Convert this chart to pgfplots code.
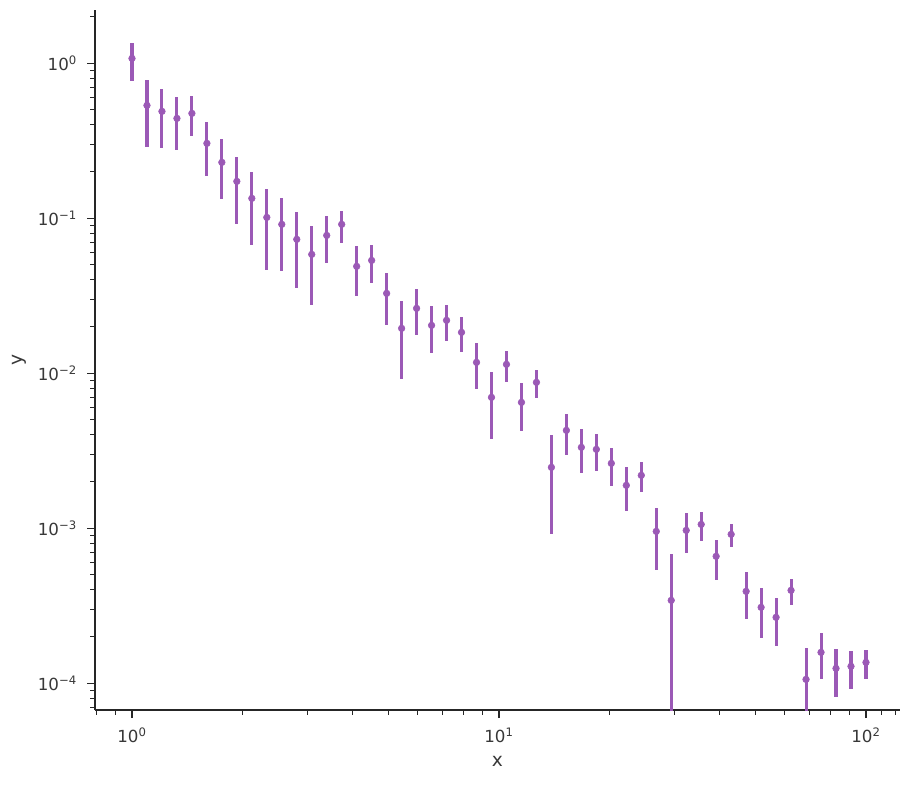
\documentclass[border=0pt]{standalone}
\usepackage{pgfplots}
\pgfplotsset{compat=1.18}
\usepackage{pgfplotstable}
\usepackage{fontspec}
\setmainfont{DejaVu Sans}
\definecolor{pur}{HTML}{9B59B6}
\definecolor{ink}{gray}{0.15}
\definecolor{txt}{gray}{0.22}

\pgfplotstableread{
x y ep em
1.0000 1.072 0.280 0.307
1.0985 0.5334 0.2466 0.2463
1.2068 0.4880 0.1946 0.2051
1.3257 0.4397 0.1666 0.1650
1.4563 0.4736 0.1416 0.1355
1.5999 0.3034 0.1147 0.1168
1.7575 0.2288 0.0960 0.0962
1.9307 0.1725 0.0761 0.0810
2.1210 0.1340 0.0649 0.0670
2.3300 0.1010 0.0535 0.0548
2.5595 0.0911 0.0441 0.0454
2.8117 0.0729 0.0369 0.0374
3.0888 0.0583 0.0309 0.0308
3.3932 0.0773 0.0262 0.0258
3.7276 0.0911 0.0204 0.0218
4.0949 0.0488 0.0175 0.0174
4.4984 0.0533 0.0140 0.0153
4.9417 0.03267 0.01170 0.01236
5.4287 0.01943 0.00985 0.01028
5.9636 0.02615 0.00852 0.00865
6.5513 0.02031 0.00687 0.00691
7.1969 0.02188 0.00571 0.00587
7.9060 0.01831 0.00476 0.00471
8.6851 0.01172 0.00396 0.00387
9.5410 0.00697 0.00323 0.00322
10.481 0.01138 0.00254 0.00267
11.514 0.00647 0.00219 0.00225
12.649 0.00871 0.00179 0.00184
13.895 0.002464 0.001534 0.001549
15.264 0.004268 0.001195 0.001324
16.768 0.003317 0.001053 0.001063
18.421 0.003219 0.000840 0.000887
20.236 0.002615 0.000682 0.000757
22.230 0.001886 0.000600 0.000605
24.421 0.002188 0.000490 0.000489
26.827 0.000952 0.000400 0.000419
29.471 0.0003416 0.000341 0.0003413
32.375 0.000966 0.000289 0.000279
35.565 0.001056 0.000218 0.000235
39.069 0.000657 0.000183 0.000197
42.919 0.000911 0.000155 0.000160
47.149 0.0003905 0.0001325 0.0001315
51.795 0.0003079 0.0001041 0.0001129
56.899 0.0002654 0.0000896 0.0000924
62.506 0.0003964 0.0000746 0.0000794
68.665 0.0001056 0.0000634 0.0000640
75.431 0.0001578 0.0000532 0.0000522
82.864 0.0001244 0.0000420 0.0000435
91.030 0.0001282 0.0000334 0.0000371
100.00 0.0001360 0.0000280 0.0000304
}\datatable

\begin{document}
\begin{tikzpicture}
\path[use as bounding box] (-71.25pt,-57pt) rectangle (612pt,532.5pt);
\begin{axis}[
  scale only axis, width=603.75pt, height=525pt,
  xmode=log, ymode=log,
  xmin=0.793, xmax=123.8, ymin=6.7e-5, ymax=2.2,
  axis lines=left, axis line style={-, ink, line width=0.9pt},
  tick align=outside, tick style={ink, line width=0.8pt},
  major tick length=6pt, minor tick length=3.5pt,
  xtick={1,10,100},
  xticklabels={10\textsuperscript{0},10\textsuperscript{1},10\textsuperscript{2}},
  minor xtick={0.8,0.9,2,3,4,5,6,7,8,9,20,30,40,50,60,70,80,90,110,120},
  ytick={1e-4,1e-3,1e-2,1e-1,1},
  yticklabels={10\textsuperscript{−4},10\textsuperscript{−3},10\textsuperscript{−2},10\textsuperscript{−1},10\textsuperscript{0}},
  minor ytick={7e-5,8e-5,9e-5,2e-4,3e-4,4e-4,5e-4,6e-4,7e-4,8e-4,9e-4,2e-3,3e-3,4e-3,5e-3,6e-3,7e-3,8e-3,9e-3,2e-2,3e-2,4e-2,5e-2,6e-2,7e-2,8e-2,9e-2,0.2,0.3,0.4,0.5,0.6,0.7,0.8,0.9,2},
  ticklabel style={font=\fontsize{12.5}{15}\selectfont, text=txt},
  xticklabel style={yshift=-4pt},
  yticklabel style={xshift=-4pt},
  label style={font=\fontsize{14}{17}\selectfont, text=txt},
  xlabel={x}, ylabel={y},
  xlabel style={yshift=-3pt},
  ylabel style={yshift=2pt},
  clip=true,
]
\addplot[pur, only marks, mark=*, mark size=2.5pt, mark options={draw=pur, fill=pur},
  error bars/.cd, y dir=both, y explicit,
  error bar style={line width=2.3pt, pur},
  error mark=none]
  table[x=x, y=y, y error plus=ep, y error minus=em] {\datatable};
\end{axis}
\end{tikzpicture}
\end{document}
